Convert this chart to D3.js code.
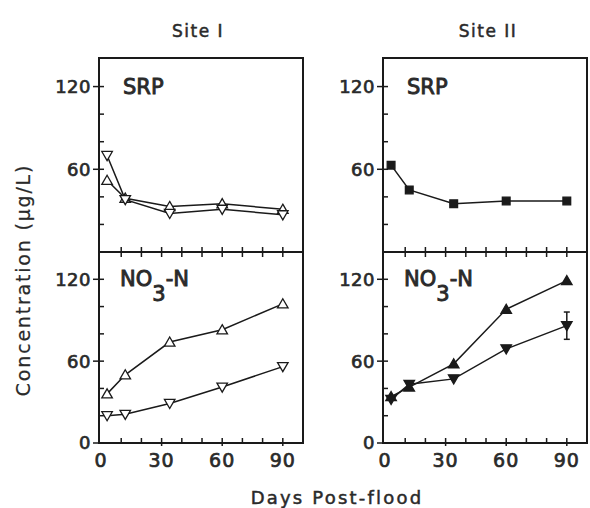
<!DOCTYPE html>
<html>
<head>
<meta charset="utf-8">
<script src="https://cdn.jsdelivr.net/npm/d3@7"></script>
<style>
  html, body { margin: 0; padding: 0; background: #fff; }
  svg { display: block; }
  .lbl { font-family: "DejaVu Sans", "Liberation Sans", sans-serif; fill: #2a2a2a; stroke: #2a2a2a; stroke-width: 0.7px; }
</style>
</head>
<body>
<script>
// ---- data ----
const days = [3, 12, 34, 60, 90];
const srpSiteIUp = [52, 39, 33, 35, 31];
const srpSiteIDown = [70, 38, 28, 31, 27];
const no3SiteIUp = [36, 50, 74, 83, 102];
const no3SiteIDown = [20, 21, 29, 41, 56];
const srpSiteII = [63, 45, 35, 37, 37];
const no3SiteIIUp = [34, 41, 58, 98, 119];
const no3SiteIIDown = [32, 43, 47, 69, 86];
const no3SiteIIDownErr = [0, 0, 0, 0, 10];
const yTickValues = [0, 20, 40, 60, 80, 100, 120, 140];
const yTickLabels = [0, 60, 120];
const xTickValues = [0, 10, 20, 30, 40, 50, 60, 70, 80, 90];
const xTickLabels = [0, 30, 60, 90];
const siteTitles = ["Site I", "Site II"];
const panelTitles = ["SRP", "NO3-N"];

// ---- layout ----
const W = 590, H = 508;
const svg = d3.select("body").append("svg").attr("width", W).attr("height", H);
const colX = [99, 383];
const panelW = 204;
const topY = 58, sepY = 252, botY = 443;

const xScales = colX.map(x0 => d3.scaleLinear().domain([-1, 100]).range([x0, x0 + panelW]));
const yUpper = d3.scaleLinear().domain([0, 140]).range([sepY, topY + 1]);
const yLower = d3.scaleLinear().domain([0, 140]).range([botY, sepY]);

const ink = "#1a1a1a";

// site titles
siteTitles.forEach((t, i) => {
  svg.append("text").attr("class", "lbl").attr("x", colX[i] + panelW / 2 - 3 + i * 6).attr("y", 37)
    .attr("text-anchor", "middle").attr("font-size", 17).style("stroke-width", "0.5px")
    .attr("letter-spacing", 1.5).text(t);
});

// axis titles
svg.append("text").attr("class", "lbl").attr("transform", "translate(30,280) rotate(-90)")
  .attr("text-anchor", "middle").attr("font-size", 19).style("stroke-width", "0.2px")
  .attr("letter-spacing", 1.8).text("Concentration (\u00b5g/L)");

svg.append("text").attr("class", "lbl").attr("x", 337).attr("y", 504).attr("text-anchor", "middle")
  .attr("font-size", 18).style("stroke-width", "0.5px")
  .attr("letter-spacing", 2.2).text("Days Post-flood");

function drawFrame(ci) {
  const x = xScales[ci];
  const x0 = colX[ci], x1 = colX[ci] + panelW;
  const g = svg.append("g").attr("stroke", ink).attr("fill", "none");
  g.append("rect").attr("x", x0).attr("y", topY).attr("width", panelW).attr("height", botY - topY)
    .attr("stroke-width", 2);
  g.append("line").attr("x1", x0).attr("x2", x1).attr("y1", sepY).attr("y2", sepY).attr("stroke-width", 2);

  [[yUpper, true], [yLower, false]].forEach(([ys, upper]) => {
    yTickValues.forEach(v => {
      if (upper && v === 0) return;
      if (v === 140) return;
      const major = yTickLabels.includes(v);
      const yy = ys(v);
      g.append("line").attr("x1", major ? x0 - 6 : x0).attr("x2", x0 + 5)
        .attr("y1", yy).attr("y2", yy).attr("stroke-width", 1.5);
      if (major) {
        svg.append("text").attr("class", "lbl").attr("x", x0 - 8).attr("y", yy).attr("dy", "0.36em")
          .attr("text-anchor", "end").attr("font-size", 18).attr("letter-spacing", 0.5).text(v);
      }
    });
  });

  xTickValues.forEach(v => {
    if (v === 0) return;
    const xx = x(v);
    g.append("line").attr("x1", xx).attr("x2", xx).attr("y1", sepY - 5).attr("y2", sepY + 5).attr("stroke-width", 1.5);
    g.append("line").attr("x1", xx).attr("x2", xx).attr("y1", botY - 5).attr("y2", botY + (xTickLabels.includes(v) ? 3 : 0)).attr("stroke-width", 1.5);
  });
  xTickLabels.forEach(v => {
    svg.append("text").attr("class", "lbl").attr("x", x(v)).attr("y", botY + 24).attr("text-anchor", "middle")
      .attr("font-size", 19).attr("letter-spacing", 1).text(v);
  });

  svg.append("text").attr("class", "lbl").attr("x", x0 + 24).attr("y", yUpper(120) + 7)
    .attr("font-size", 21).style("stroke-width", "0.9px").text(panelTitles[0]);
  const t = svg.append("text").attr("class", "lbl").attr("x", x0 + 21).attr("y", yLower(120) + 7)
    .attr("font-size", 21).style("stroke-width", "0.9px");
  t.append("tspan").text("NO");
  t.append("tspan").attr("dy", 15).text("3");
  t.append("tspan").attr("dy", -15).text("-N");
}
drawFrame(0);
drawFrame(1);

const triUp = d3.symbol().type(d3.symbolTriangle).size(48);
const sq = d3.symbol().type(d3.symbolSquare).size(60);

function series(ci, ys, vals, shape, filled, rotate, errs) {
  const x = xScales[ci];
  const pts = days.map((d, i) => [x(d), ys(vals[i])]);
  svg.append("path").attr("d", d3.line()(pts)).attr("fill", "none")
    .attr("stroke", ink).attr("stroke-width", 1.5);
  if (errs) {
    days.forEach((d, i) => {
      if (!errs[i]) return;
      const xx = x(d), ya = ys(vals[i] - errs[i]), yb = ys(vals[i] + errs[i]);
      const g = svg.append("g").attr("stroke", ink).attr("stroke-width", 1.5);
      g.append("line").attr("x1", xx).attr("x2", xx).attr("y1", ya).attr("y2", yb);
      g.append("line").attr("x1", xx - 3).attr("x2", xx + 3).attr("y1", ya).attr("y2", ya);
      g.append("line").attr("x1", xx - 3).attr("x2", xx + 3).attr("y1", yb).attr("y2", yb);
    });
  }
  svg.append("g").selectAll("path").data(pts).join("path")
    .attr("d", shape)
    .attr("transform", p => `translate(${p[0]},${p[1] + (shape === triUp ? (rotate ? -1 : 1) : 0)}) rotate(${rotate ? 180 : 0})`)
    .attr("fill", filled ? ink : "#fff").attr("stroke", ink).attr("stroke-width", 1.3);
}

series(0, yUpper, srpSiteIUp, triUp, false, false);
series(0, yUpper, srpSiteIDown, triUp, false, true);
series(0, yLower, no3SiteIUp, triUp, false, false);
series(0, yLower, no3SiteIDown, triUp, false, true);
series(1, yUpper, srpSiteII, sq, true, false);
series(1, yLower, no3SiteIIUp, triUp, true, false);
series(1, yLower, no3SiteIIDown, triUp, true, true, no3SiteIIDownErr);
</script>
</body>
</html>
